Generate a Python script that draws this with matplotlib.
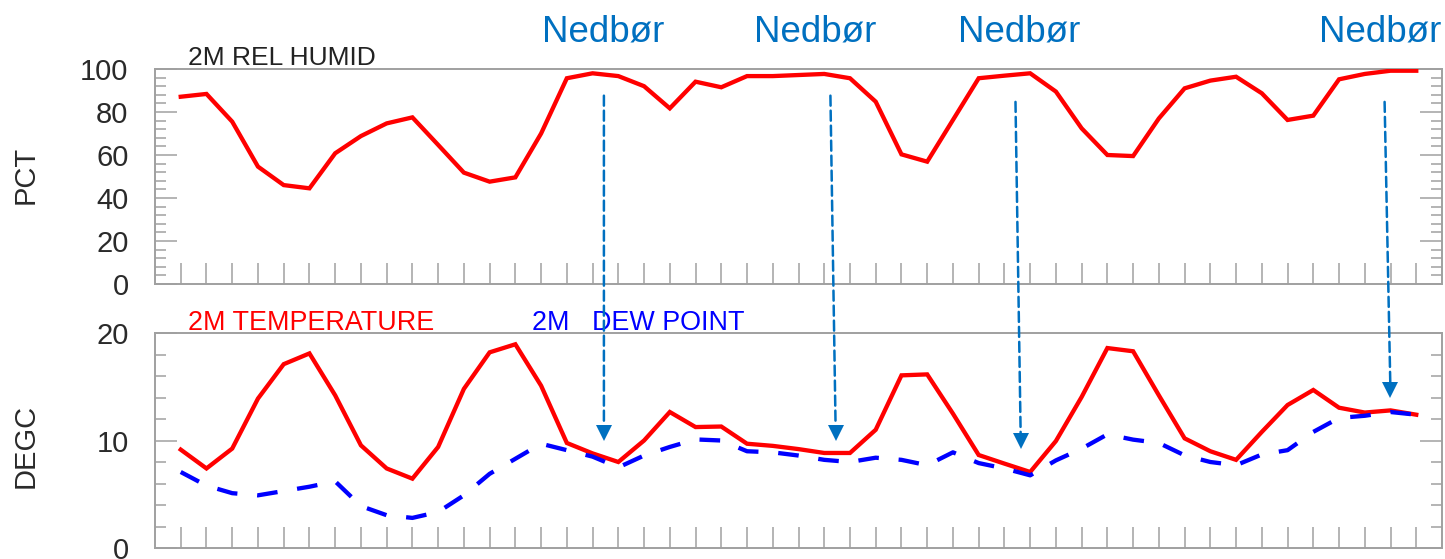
import matplotlib
matplotlib.use("Agg")
import matplotlib.pyplot as plt
from matplotlib.patches import ConnectionPatch
from matplotlib.ticker import MultipleLocator

plt.rcParams['font.family'] = ['Liberation Sans', 'DejaVu Sans']

# 2 m relative humidity (%), one value per time step
rel_humid = [87.1, 88.4, 75.5, 54.6, 46.0, 44.5, 60.8, 68.8, 74.7, 77.5,
             64.7, 51.8, 47.6, 49.6, 70.0, 95.7, 98.0, 96.7, 92.0, 81.7,
             94.1, 91.5, 96.7, 96.7, 97.2, 97.7, 95.7, 84.8, 60.3, 56.9,
             76.3, 95.7, 96.9, 98.0, 89.5, 72.4, 60.0, 59.5, 77.0, 91.0,
             94.6, 96.4, 88.7, 76.3, 78.3, 95.2, 97.7, 99.2, 99.2]

# 2 m temperature (deg C)
temperature = [9.15, 7.4, 9.25, 13.9, 17.1, 18.1, 14.2, 9.55, 7.4, 6.45,
               9.4, 14.8, 18.2, 18.95, 15.1, 9.77, 8.8, 8.0, 10.0, 12.65,
               11.25, 11.3, 9.7, 9.5, 9.2, 8.84, 8.84, 11.0, 16.06, 16.15,
               12.5, 8.65, 7.85, 7.07, 9.95, 14.05, 18.6, 18.3, 14.2, 10.2,
               9.0, 8.2, 10.8, 13.3, 14.7, 13.05, 12.6, 12.8, 12.4]

# 2 m dew point (deg C)
dew_point = [7.07, 5.8, 5.1, 4.9, 5.3, 5.7, 6.2, 3.9, 3.05, 2.8,
             3.35, 4.9, 6.9, 8.3, 9.7, 9.1, 8.5, 7.5, 8.6, 9.4,
             10.1, 10.0, 9.0, 8.9, 8.6, 8.2, 8.0, 8.4, 8.2, 7.7,
             8.9, 7.9, 7.4, 6.76, 8.15, 9.24, 10.57, 10.08, 9.77, 8.62,
             8.0, 7.7, 8.7, 9.1, 10.8, 12.1, 12.3, 12.65, 12.4]

steps = list(range(len(rel_humid)))

# Precipitation markers: label text, (x, y) start on the humidity panel,
# (x, head-top y, tip y) on the temperature panel
precip_label = "Nedbør"
precip_label_x = [16.43, 24.66, 32.56, 46.58]
arrow_start_x = [16.44, 25.24, 32.43, 46.77]
arrow_start_y = [87.6, 87.6, 84.7, 84.7]
arrow_end_x = [16.44, 25.44, 32.63, 46.99]
arrow_head_top = [11.41, 11.41, 10.67, 15.42]
arrow_tip = [9.95, 10.02, 9.29, 14.02]

RED = '#ff0000'
BLUE = '#0000ff'
ARROW_BLUE = '#0070c0'
FRAME = '#a0a0a0'
TEXT = '#2a2a2a'

W, H = 1445, 559
fig = plt.figure(figsize=(W / 100, H / 100), dpi=100)
left, right = 155 / W, 1442 / W
ax1 = fig.add_axes([left, (H - 284) / H, right - left, 215 / H])
ax2 = fig.add_axes([left, (H - 548) / H, right - left, 215 / H])

for ax in (ax1, ax2):
    ax.set_xlim(-1, len(steps))
    ax.set_xticks(steps)
    ax.set_xticklabels([])
    ax.tick_params(axis='x', which='major', direction='in', length=15,
                   width=1.1, color=FRAME, top=False, bottom=True)
    ax.tick_params(axis='y', which='both', direction='in', left=True,
                   right=True, color=FRAME, width=1.1, labelsize=21,
                   labelcolor=TEXT, pad=19)
    ax.tick_params(axis='y', which='major', length=16)
    ax.tick_params(axis='y', which='minor', length=8)
    for sp in ax.spines.values():
        sp.set_color(FRAME)
        sp.set_linewidth(1.4)

# Relative humidity panel
ax1.set_ylim(0, 100)
ax1.yaxis.set_major_locator(MultipleLocator(20))
ax1.yaxis.set_minor_locator(MultipleLocator(4))
ax1.plot(steps, rel_humid, color=RED, lw=3.1, solid_joinstyle='miter',
         zorder=3)
ax1.set_ylabel('PCT', fontsize=21, color=TEXT)
ax1.yaxis.set_label_coords((40 - 155) / 1287, 0.505)
ax1.text(0.0256, 1 + 4 / 215, '2M REL HUMID', transform=ax1.transAxes,
         fontsize=19, color='#222222', va='baseline', ha='left')

# Temperature / dew point panel
ax2.set_ylim(0, 20)
ax2.yaxis.set_major_locator(MultipleLocator(10))
ax2.yaxis.set_minor_locator(MultipleLocator(2))
ax2.plot(steps, temperature, color=RED, lw=3.1, solid_joinstyle='miter',
         zorder=3)
ax2.plot(steps, dew_point, color=BLUE, lw=3.1, dashes=(4.8, 4.6),
         dash_capstyle='butt', zorder=4)
ax2.set_ylabel('DEGC', fontsize=21, color=TEXT)
ax2.yaxis.set_label_coords((40 - 155) / 1287, 0.477)
ax2.text(0.0256, 1 + 3 / 215, '2M TEMPERATURE', transform=ax2.transAxes,
         fontsize=19.4, color=RED, va='baseline', ha='left')
ax2.text((532 - 155) / 1287, 1 + 3 / 215, '2M   DEW POINT',
         transform=ax2.transAxes, fontsize=19.4, color=BLUE, va='baseline',
         ha='left')

# Precipitation labels and arrows spanning both panels
for lx in precip_label_x:
    ax1.text(lx, 1 + 27 / 215, precip_label, transform=ax1.get_xaxis_transform(),
             fontsize=26.5, color=ARROW_BLUE, ha='center', va='baseline')

for x0, y0, x1, y1, yt in zip(arrow_start_x, arrow_start_y, arrow_end_x,
                              arrow_head_top, arrow_tip):
    shaft = ConnectionPatch(xyA=(x0, y0), coordsA=ax1.transData,
                            xyB=(x1, y1), coordsB=ax2.transData,
                            arrowstyle='-', color=ARROW_BLUE, lw=1.8,
                            linestyle=(0, (4, 2)), zorder=6)
    fig.add_artist(shaft)
    ax2.plot([x1], [(y1 + yt) / 2], marker='v', ms=11.5, mew=0,
             color=ARROW_BLUE, clip_on=False, zorder=7)

fig.savefig('out.png', dpi=100)
